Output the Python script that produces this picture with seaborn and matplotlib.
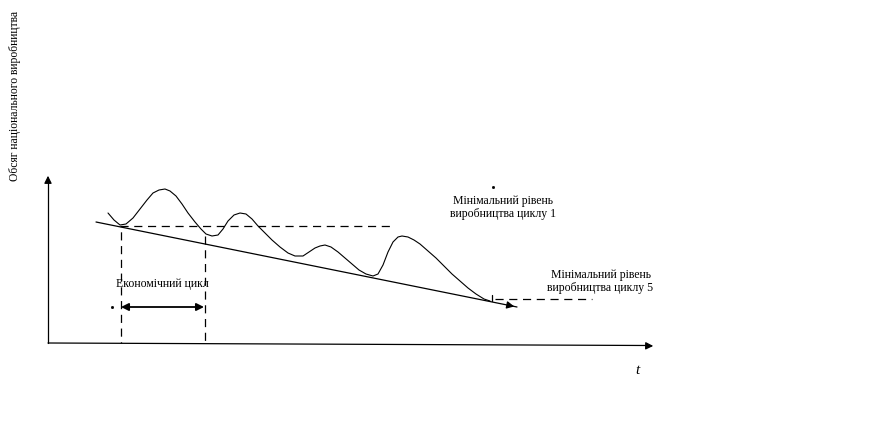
import matplotlib
matplotlib.use("Agg")
import matplotlib.pyplot as plt
import seaborn as sns
import numpy as np

sns.set_theme(style="white")
plt.rcParams['font.family'] = ['Liberation Serif', 'DejaVu Serif']

# --- data (pixel-space schematic coordinates) ---
curve_x = [108, 114, 120, 126, 133, 140, 147, 153, 159, 165, 170, 176, 182, 188, 195, 201, 206, 212,
           218, 223, 228, 234, 240, 246, 252, 258, 265, 272, 280, 288, 295, 303, 309, 315, 320, 325,
           331, 338, 345, 352, 359, 366, 373, 378, 383, 388, 393, 398, 402, 408, 414, 420, 428, 436,
           444, 452, 460, 468, 476, 484, 490]
curve_y = [213, 220, 225, 224, 218, 209, 200, 193, 190, 189, 191, 196, 204, 213, 222, 229, 234, 236,
           235, 229, 221, 215, 213, 214, 219, 226, 233, 240, 247, 253, 256, 256, 252, 248, 246, 245,
           247, 252, 258, 264, 270, 274, 276, 274, 265, 252, 242, 237, 236, 237, 240, 244, 251, 258,
           266, 274, 281, 288, 294, 299, 301]

trend_x = [96, 517]
trend_y = [222, 307]

min1_x = [120, 392]
min1_y = [226, 226]
min5_x = [495, 592]
min5_y = [298.5, 298.5]

cycle_start = 120.5
cycle_end = 205
cycle_label = "Економічний цикл"
min1_lines = ["Мінімальний рівень", "виробництва циклу 1"]
min5_lines = ["Мінімальний рівень", "виробництва циклу 5"]
y_label = "Обсяг національного виробництва"
x_label = "t"

W, H = 877, 428
fig = plt.figure(figsize=(W / 100, H / 100), dpi=100)
ax = fig.add_axes([0, 0, 1, 1])
ax.set_xlim(0, W)
ax.set_ylim(H, 0)
ax.axis("off")

lw = 0.9
dash = (0, (6.5, 4.5))

# axes with arrows
ax.plot([48, 48], [343, 180], color="black", lw=lw)
ax.annotate("", xy=(48, 173), xytext=(48, 185),
            arrowprops=dict(arrowstyle="-|>", color="black", lw=lw, mutation_scale=11))
ax.plot([48, 648], [343, 345.5], color="black", lw=lw)
ax.annotate("", xy=(656, 346), xytext=(644, 345.8),
            arrowprops=dict(arrowstyle="-|>", color="black", lw=lw, mutation_scale=11))

# wavy curve
sns.lineplot(x=curve_x, y=curve_y, sort=False, estimator=None, color="black", lw=0.8, ax=ax)

# trend line
sns.lineplot(x=trend_x, y=trend_y, sort=False, estimator=None, color="black", lw=lw, ax=ax)
ax.annotate("", xy=(trend_x[1], trend_y[1]),
            xytext=(trend_x[1] - 12, trend_y[1] - 12 * (trend_y[1] - trend_y[0]) / (trend_x[1] - trend_x[0])),
            arrowprops=dict(arrowstyle="-|>", color="black", lw=lw, mutation_scale=11))

# dashed reference lines
ax.plot(min1_x, min1_y, color="black", lw=lw, linestyle=dash)
ax.plot(min5_x, min5_y, color="black", lw=lw, linestyle=dash)
ax.plot([491.5, 491.5], [295, 301], color="black", lw=lw)
ax.plot([cycle_start, cycle_start], [226, 343], color="black", lw=lw, linestyle=(6.35, (6.5, 4.5)))
ax.plot([cycle_end, cycle_end], [236, 343], color="black", lw=lw, linestyle=dash)

# double arrow for cycle
ax.annotate("", xy=(cycle_start + 0.5, 307), xytext=(cycle_end - 1, 307),
            arrowprops=dict(arrowstyle="<|-|>", color="black", lw=1.3, mutation_scale=11,
                            shrinkA=0, shrinkB=0))

# small dots
ax.plot([112], [307], marker="s", ms=1, color="black")
ax.plot([493], [187], marker="s", ms=1, color="black")

# texts
fs = 8.5
ax.text(15.5, 96, y_label, rotation=90, ha="center", va="center", fontsize=8.4, color="black")
ax.text(637, 370, x_label, ha="center", va="center", fontsize=11, style="italic", color="black")
ax.text(162, 284, cycle_label, ha="center", va="center", fontsize=fs, color="black")
ax.text(503, 201, min1_lines[0], ha="center", va="center", fontsize=fs, color="black")
ax.text(502.5, 213.5, min1_lines[1], ha="center", va="center", fontsize=fs, color="black")
ax.text(601, 275, min5_lines[0], ha="center", va="center", fontsize=fs, color="black")
ax.text(600, 288.5, min5_lines[1], ha="center", va="center", fontsize=fs, color="black")

fig.savefig("out.png", dpi=100, facecolor="white")
